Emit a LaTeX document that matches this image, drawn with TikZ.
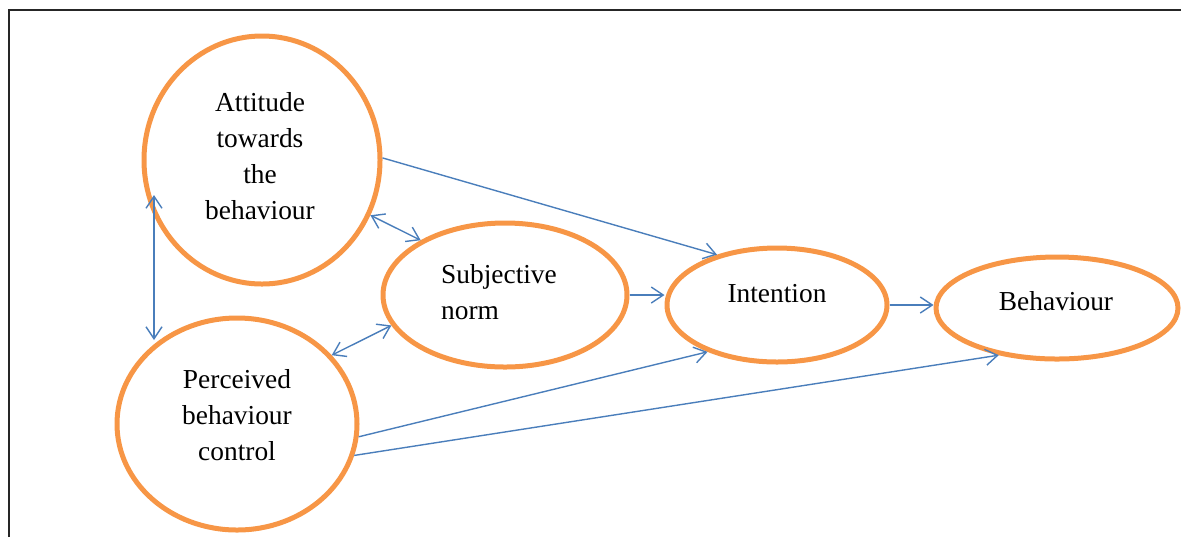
\documentclass[tikz,border=0pt]{standalone}
\usepackage{fontspec}
\setmainfont{Liberation Serif}
\usetikzlibrary{shapes.geometric,arrows.meta,calc}
\definecolor{ovalorange}{HTML}{F79646}
\definecolor{linkblue}{HTML}{4A7EBB}
\begin{document}
\begin{tikzpicture}[x=0.5pt,y=-0.5pt,
  oval/.style={ellipse,draw=ovalorange,line width=2.5pt,inner sep=0pt},
  lbl/.style={font=\fontsize{13.7pt}{18pt}\selectfont,align=center,inner sep=0pt},
  link/.style={draw=linkblue,line width=0.7pt,-{Straight Barb[length=6pt,width=8pt,line width=0.7pt]}},
  both/.style={draw=linkblue,line width=0.7pt,{Straight Barb[length=6pt,width=8pt,line width=0.7pt]}-{Straight Barb[length=6pt,width=8pt,line width=0.7pt]}}]
\useasboundingbox (0,0) rectangle (1181,537);
\draw[line width=1.2pt,black!85] (9,537) coordinate (fb) -- (9,10) coordinate (fc) -- (1181,10) coordinate (fe);

\node[oval,minimum width=118pt,minimum height=124pt] (A) at (262,160) {};
\node[oval,minimum width=120pt,minimum height=106pt] (P) at (237,424) {};
\node[oval,minimum width=122pt,minimum height=72pt] (S) at (505,295) {};
\node[oval,minimum width=110pt,minimum height=57pt] (I) at (777,305) {};
\node[oval,minimum width=121pt,minimum height=51pt] (B) at (1057,308) {};

\node[lbl] (tA) at (260,156) {Attitude\\towards\\the\\behaviour};
\node[lbl] (tP) at (237,415) {Perceived\\behaviour\\control};
\node[lbl,align=left] (tS) at (499,292) {Subjective\\norm};
\node[lbl] (tI) at (777,294) {Intention};
\node[lbl] (tB) at (1056,301) {Behaviour};

\draw[link] (A.1) -- (I.140);
\draw[both] ($(A.center)+(-108,35)$) -- ($(P.center)+(-83,-84)$);
\draw[both] (A.-27) -- (S.147);
\draw[both] (S.195) -- (P.36);
\draw[link] (S.east) -- (S.east -| I.west);
\draw[link] (I.east) -- (I.east -| B.west);
\draw[link] (P.-6) -- (I.214);
\draw[link] (P.-15) -- (B.219);
\end{tikzpicture}
\end{document}
